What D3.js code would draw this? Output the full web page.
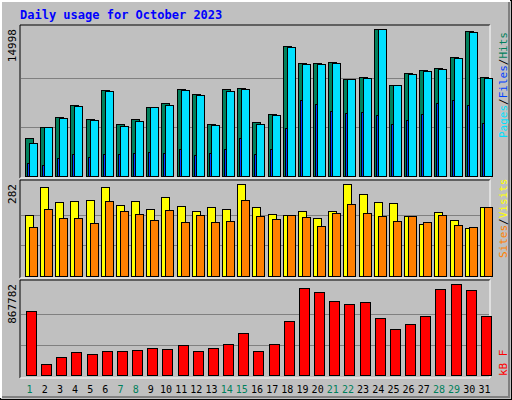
<!DOCTYPE html>
<html><head><meta charset="utf-8">
<script src="https://cdn.jsdelivr.net/npm/d3@7.9.0/dist/d3.min.js"></script>
<style>body{margin:0;background:#fff}svg{display:block}</style>
</head><body>
<svg id="chart" width="512" height="400"></svg>
<script>
// Daily values for October 2023
const days = d3.range(1, 32);
const weekendDays = [1, 7, 8, 14, 15, 21, 22, 28, 29];
const hits = [3843, 4965, 5986, 7210, 5782, 8740, 5272, 5782, 7006, 7414, 8843, 8332, 5272, 8843, 8945, 5476, 6292, 13230, 11495, 11495, 11597, 9863, 10067, 14998, 9251, 10475, 10781, 10985, 12108, 14760, 10067];
const pages = [3333, 4965, 5884, 7108, 5680, 8639, 5067, 5578, 7006, 7210, 8741, 8230, 5170, 8639, 8843, 5272, 6190, 13128, 11393, 11393, 11495, 9863, 9965, 14964, 9251, 10373, 10679, 10883, 12006, 14658, 9965];
const files = [1292, 1088, 1803, 2211, 1905, 2211, 2211, 2313, 2415, 2313, 2721, 2109, 2313, 2721, 3843, 2211, 2721, 4863, 7720, 7312, 6598, 6394, 6496, 6190, 5272, 5680, 6292, 7414, 7720, 7210, 5374];
const visits = [187, 273, 227, 230, 233, 273, 218, 230, 205, 242, 215, 199, 211, 205, 282, 211, 190, 187, 199, 178, 199, 282, 251, 227, 224, 184, 159, 196, 172, 147, 211];
const sites = [150, 205, 178, 178, 162, 230, 199, 190, 172, 202, 166, 187, 166, 169, 233, 184, 175, 187, 181, 153, 193, 221, 193, 184, 169, 184, 166, 187, 156, 150, 211];
const kbytes = [610290, 104894, 171644, 219323, 200252, 228859, 228859, 238395, 257467, 247931, 286074, 228859, 257467, 295610, 400504, 228859, 295610, 514933, 829615, 791471, 705649, 678578, 696113, 543541, 438647, 486326, 562612, 820079, 867782, 810543, 562612];

const svg = d3.select('#chart');
const font = "'DejaVu Sans Mono', monospace";

// background and bevelled frame
svg.append('rect').attr('width', 512).attr('height', 400).attr('fill', '#000');
svg.append('rect').attr('x', 1).attr('y', 1).attr('width', 510).attr('height', 398).attr('fill', '#C0C0C0');
svg.append('path').attr('d', 'M1,398V1H510').attr('stroke', '#fff').attr('stroke-width', 2).attr('fill', 'none');
svg.append('path').attr('d', 'M2,397H509V2').attr('stroke', '#808080').attr('stroke-width', 2).attr('fill', 'none');

svg.append('text').attr('x', 20).attr('y', 19).attr('font-family', font).attr('font-weight', 'bold')
  .attr('font-size', 12).attr('fill', '#0000FF').text('Daily usage for October 2023');

const x = d3.scaleBand().domain(days).range([20, 490]);

function panel(top, bottom, base, maxTop, maxVal) {
  svg.append('path').attr('d', `M20,${bottom}V${top}H490`).attr('stroke', '#000').attr('fill', 'none');
  svg.append('path').attr('d', `M20,${bottom}H490V${top}`).attr('stroke', '#fff').attr('fill', 'none');
  const y = d3.scaleLinear().domain([0, maxVal]).range([base, maxTop]);
  [1 / 3, 2 / 3].forEach(f => {
    svg.append('line').attr('x1', 21).attr('x2', 489)
      .attr('y1', Math.round(y(maxVal * f)) + 0.5).attr('y2', Math.round(y(maxVal * f)) + 0.5)
      .attr('stroke', '#808080');
  });
  svg.append('text').attr('transform', `translate(16,${maxTop}) rotate(-90)`).attr('text-anchor', 'end')
    .attr('font-family', font).attr('font-size', 11).attr('fill', '#000').text(maxVal);
  return y;
}

function bars(data, y, dx, w, color) {
  svg.append('g').selectAll('rect').data(data).join('rect')
    .attr('x', (d, i) => Math.round(x(days[i])) + dx + 0.5)
    .attr('y', d => Math.round(y(d)) + 0.5)
    .attr('width', w)
    .attr('height', d => y(0) - Math.round(y(d)))
    .attr('fill', color).attr('stroke', '#000');
}

// hits / pages / files
const y1 = panel(25, 178, 176, 29, d3.max(hits));
bars(hits, y1, 5, 8, '#00805C');
bars(pages, y1, 9, 8, '#00E0FF');
bars(files, y1, 7, 2, '#0040FF');

// visits / sites
const y2 = panel(180, 278, 276, 184, d3.max(visits));
bars(visits, y2, 5, 8, '#FFFF00');
bars(sites, y2, 9, 8, '#FF8000');

// kB
const y3 = panel(280, 378, 375, 284, d3.max(kbytes));
bars(kbytes, y3, 6, 10, '#FF0000');

// day labels
svg.append('g').selectAll('text').data(days).join('text')
  .attr('x', d => x(d) + x.bandwidth() / 2 + 2).attr('y', 393).attr('text-anchor', 'middle')
  .attr('font-family', font).attr('font-size', 10)
  .attr('fill', d => weekendDays.includes(d) ? '#00805C' : '#000').text(d => d);

// right side legends
function legend(yEnd, parts) {
  const t = svg.append('text').attr('transform', `translate(507,${yEnd}) rotate(-90)`)
    .attr('font-family', font).attr('font-size', 11);
  parts.forEach(([s, c]) => t.append('tspan').attr('fill', c).text(s));
}
legend(138, [['Pages', '#00E0FF'], ['/', '#000'], ['Files', '#0040FF'], ['/', '#000'], ['Hits', '#00805C']]);
legend(258, [['Sites', '#FF8000'], ['/', '#000'], ['Visits', '#FFFF00']]);
legend(376, [['kB F', '#FF0000']]);
</script>
</body></html>
